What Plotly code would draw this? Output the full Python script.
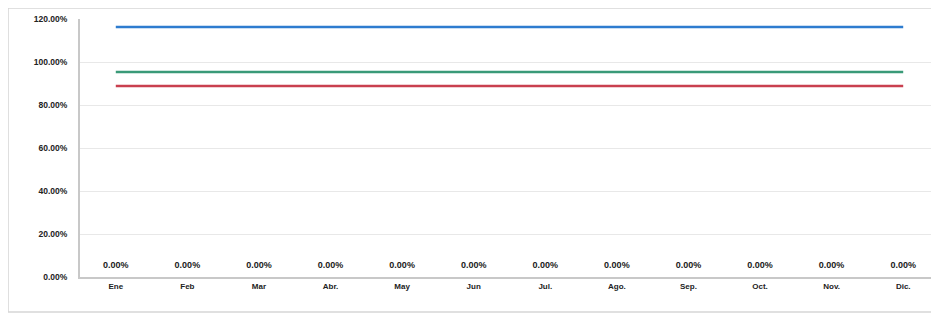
import plotly.graph_objects as go

months = ["Ene", "Feb", "Mar", "Abr.", "May", "Jun", "Jul.", "Ago.", "Sep.", "Oct.", "Nov.", "Dic."]
serie_azul = [116.3] * 12
serie_verde = [95.3] * 12
serie_roja = [88.8] * 12
serie_cero = [0.0] * 12
y_ticks = [0, 20, 40, 60, 80, 100, 120]

font_family = "Liberation Sans, Arial, sans-serif"

fig = go.Figure()
fig.add_trace(go.Scatter(x=months, y=serie_azul, mode="lines",
                         line=dict(color="#2e7ccf", width=2.5), showlegend=False))
fig.add_trace(go.Scatter(x=months, y=serie_verde, mode="lines",
                         line=dict(color="#3a9a78", width=2.5), showlegend=False))
fig.add_trace(go.Scatter(x=months, y=serie_roja, mode="lines",
                         line=dict(color="#c9404f", width=2.5), showlegend=False))
fig.add_trace(go.Scatter(x=months, y=serie_cero, mode="markers+text",
                         marker=dict(size=9, opacity=0),
                         text=[f"<b>{v:.2f}%</b>" for v in serie_cero],
                         textposition="top center",
                         textfont=dict(family=font_family, size=9, color="#1a1a1a"),
                         showlegend=False, cliponaxis=False))

fig.update_layout(
    width=931, height=312,
    margin=dict(l=72, r=0, t=11, b=43),
    paper_bgcolor="white", plot_bgcolor="white",
    font=dict(family=font_family, size=8, color="#222222"),
    xaxis=dict(type="category", range=[-0.5, 11.5], showgrid=False,
               showline=True, linecolor="#c8c8c8", linewidth=2,
               tickvals=months, ticktext=[f"<b>{m}</b>" for m in months],
               ticks="", tickfont=dict(size=8, color="#222222"), fixedrange=True),
    yaxis=dict(range=[0, 120], tickvals=y_ticks,
               ticktext=[f"<b>{v:.2f}%</b>" for v in y_ticks],
               showgrid=True, gridcolor="#e8e8e8", gridwidth=1,
               showline=True, linecolor="#c8c8c8", linewidth=2,
               ticks="", ticklabelstandoff=9, zeroline=False,
               tickfont=dict(size=8.5, color="#222222"), fixedrange=True),
    shapes=[dict(type="rect", xref="paper", yref="paper",
                 x0=-0.0838, x1=1.01, y0=-0.1357, y1=1.0426,
                 line=dict(color="#d6d6d6", width=1.5), fillcolor="rgba(0,0,0,0)",
                 layer="below")],
)

fig.write_html("out.html")
